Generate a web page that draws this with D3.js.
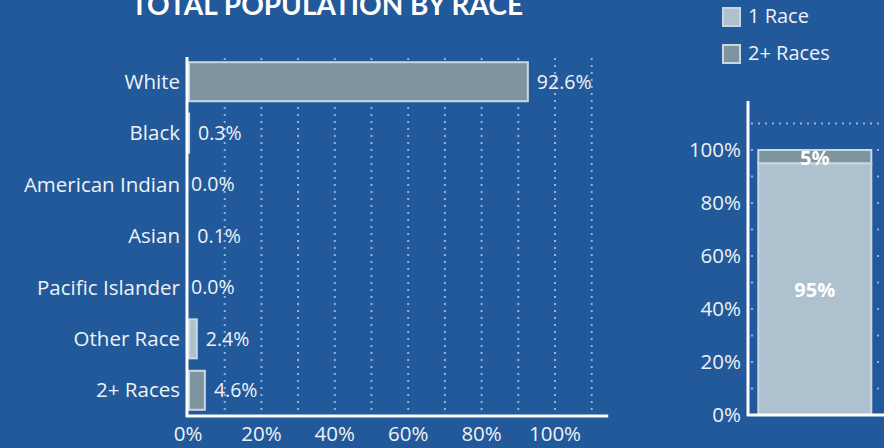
<!DOCTYPE html>
<html>
<head>
<meta charset="utf-8">
<script src="https://cdn.jsdelivr.net/npm/d3@7"></script>
<style>
  html, body { margin: 0; padding: 0; background: #22599a; overflow: hidden; }
  svg { display: block; font-family: "Open Sans", Lato, sans-serif; font-weight: 400; }
</style>
</head>
<body>
<div id="chart"></div>
<script>
// data
const races = ["White", "Black", "American Indian", "Asian", "Pacific Islander", "Other Race", "2+ Races"];
const racePct = [92.6, 0.3, 0.0, 0.1, 0.0, 2.4, 4.6];
const raceShade = ["dark", "light", "light", "light", "light", "light", "dark"];
const xTicks = [0, 20, 40, 60, 80, 100];
const xGrid = [10, 20, 30, 40, 50, 60, 70, 80, 90, 100, 110];

const mixLabels = ["1 Race", "2+ Races"];
const mixPct = [95, 5];
const mixShade = ["light", "dark"];
const yTicks = [0, 20, 40, 60, 80, 100];
const yGrid = [10, 20, 30, 40, 50, 60, 70, 80, 90, 100, 110];

function init() {
    const width = 884;
    const height = 448;

    const fills = { light: "#adc1cf", dark: "#7e949f" };
    const edge = "#c9d7e0";
    const gridColor = "#8fb4e3";
    const textColor = "#eef2f6";

    const svg = d3.select("#chart")
        .append("svg")
        .attr("width", width)
        .attr("height", height);

    // title, partly cut off at the top
    svg.append("text")
        .attr("x", 327)
        .attr("y", 15)
        .attr("text-anchor", "middle")
        .attr("fill", "#ffffff")
        .style("font-family", "Lato, sans-serif")
        .style("font-size", "28px")
        .style("font-weight", 700)
        .text("TOTAL POPULATION BY RACE");

    // ---- left chart: horizontal bars
    const x = d3.scaleLinear().domain([0, 100]).range([188, 555]);
    const y = d3.scalePoint().domain(races).range([56, 416]).padding(0.5);
    const barH = 39;

    const left = svg.append("g");

    left.selectAll(".vgrid")
        .data(xGrid)
        .join("line")
        .attr("x1", d => x(d)).attr("x2", d => x(d))
        .attr("y1", 58).attr("y2", 412)
        .attr("stroke", gridColor)
        .attr("stroke-width", 2)
        .attr("stroke-dasharray", "2,5");

    const rows = races.map((r, i) => ({ race: r, pct: racePct[i], shade: raceShade[i] }));

    left.selectAll(".bar")
        .data(rows.filter(d => d.pct > 0.2))
        .join("rect")
        .attr("x", x(0) + 1)
        .attr("y", d => y(d.race) - barH / 2)
        .attr("width", d => Math.max(0, x(d.pct) - x(0) - 1))
        .attr("height", barH)
        .attr("fill", d => fills[d.shade])
        .attr("stroke", edge)
        .attr("stroke-width", 2);

    left.selectAll(".val")
        .data(rows)
        .join("text")
        .attr("x", d => d.pct > 0 ? x(d.pct) + 9 : x(0) + 3)
        .attr("y", d => y(d.race))
        .attr("dy", "0.35em")
        .attr("fill", textColor)
        .style("font-size", "19.5px")
        .text(d => d.pct.toFixed(1) + "%");

    left.selectAll(".cat")
        .data(races)
        .join("text")
        .attr("x", 180)
        .attr("y", d => y(d))
        .attr("dy", "0.35em")
        .attr("text-anchor", "end")
        .attr("fill", textColor)
        .style("font-size", "20.5px")
        .text(d => d);

    // axes lines
    left.append("line")
        .attr("x1", x(0) - 1).attr("x2", x(0) - 1)
        .attr("y1", 57).attr("y2", 417)
        .attr("stroke", "#ffffff").attr("stroke-width", 3);
    left.append("line")
        .attr("x1", x(0) - 2).attr("x2", x(114.5))
        .attr("y1", 416).attr("y2", 416)
        .attr("stroke", "#ffffff").attr("stroke-width", 3);

    left.selectAll(".xt")
        .data(xTicks)
        .join("text")
        .attr("x", d => x(d))
        .attr("y", 441)
        .attr("text-anchor", "middle")
        .attr("fill", textColor)
        .style("font-size", "20.5px")
        .text(d => d + "%");

    // ---- right chart: stacked column
    const yr = d3.scaleLinear().domain([0, 100]).range([415, 150]);
    const xr = d3.scaleBand().domain(["Total"]).range([748, 884]).paddingInner(0).paddingOuter(0.06);

    const right = svg.append("g");

    right.selectAll(".hgrid")
        .data(yGrid)
        .join("line")
        .attr("x1", 751).attr("x2", width)
        .attr("y1", d => yr(d)).attr("y2", d => yr(d))
        .attr("stroke", gridColor)
        .attr("stroke-width", 2)
        .attr("stroke-dasharray", "2,5");

    let acc = 0;
    const segs = mixPct.map((v, i) => {
        const s = { label: mixLabels[i], pct: v, shade: mixShade[i], y0: acc, y1: acc + v };
        acc += v;
        return s;
    });

    const bx = xr("Total") + 3;
    const bw = 113;

    right.selectAll(".seg")
        .data(segs)
        .join("rect")
        .attr("x", bx)
        .attr("y", d => yr(d.y1))
        .attr("width", bw)
        .attr("height", d => yr(d.y0) - yr(d.y1))
        .attr("fill", d => fills[d.shade])
        .attr("stroke", edge)
        .attr("stroke-width", 2);

    right.selectAll(".segLabel")
        .data(segs)
        .join("text")
        .attr("x", bx + bw / 2)
        .attr("y", d => (yr(d.y0) + yr(d.y1)) / 2 + 1)
        .attr("dy", "0.35em")
        .attr("text-anchor", "middle")
        .attr("fill", "#ffffff")
        .style("font-size", "20px")
        .style("font-weight", 700)
        .text(d => d.pct + "%");

    right.append("line")
        .attr("x1", 748).attr("x2", 748)
        .attr("y1", yr(118.5)).attr("y2", 416)
        .attr("stroke", "#ffffff").attr("stroke-width", 3);
    right.append("line")
        .attr("x1", 747).attr("x2", width)
        .attr("y1", 415).attr("y2", 415)
        .attr("stroke", "#ffffff").attr("stroke-width", 3);

    right.selectAll(".yt")
        .data(yTicks)
        .join("text")
        .attr("x", 741)
        .attr("y", d => yr(d))
        .attr("dy", "0.35em")
        .attr("text-anchor", "end")
        .attr("fill", textColor)
        .style("font-size", "20.5px")
        .text(d => d + "%");

    // legend
    const legend = svg.append("g");
    const lg = legend.selectAll("g")
        .data(mixLabels)
        .join("g")
        .attr("transform", (d, i) => `translate(723,${8 + i * 37})`);
    lg.append("rect")
        .attr("width", 17).attr("height", 18)
        .attr("fill", (d, i) => fills[mixShade[i]])
        .attr("stroke", edge)
        .attr("stroke-width", 2);
    lg.append("text")
        .attr("x", 25)
        .attr("y", 8)
        .attr("dy", "0.35em")
        .attr("fill", textColor)
        .style("font-size", "20px")
        .text(d => d);
}

window.onload = init;
</script>
</body>
</html>
